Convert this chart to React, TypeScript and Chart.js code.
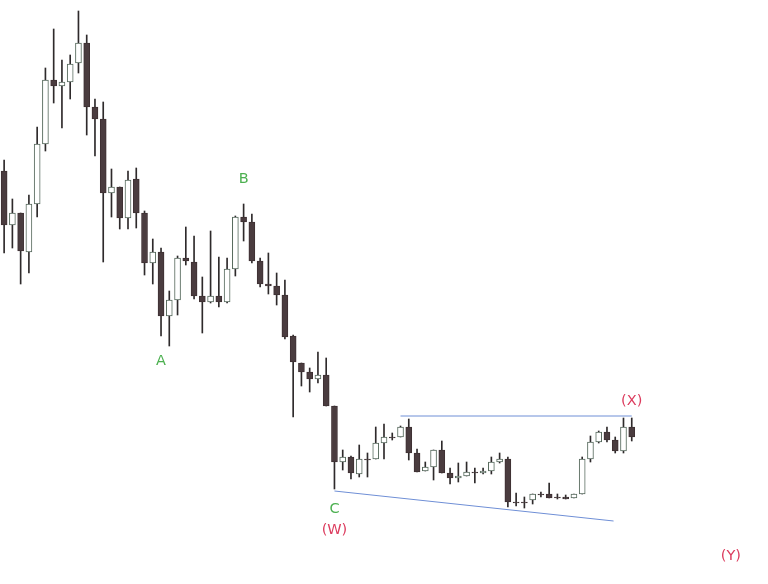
import { useEffect, useRef } from "react"
import { Chart, registerables } from "chart.js"

Chart.register(...registerables)

// price in points, one candle per session
const opens = [
  413, 359, 371, 332, 380, 440, 504, 498, 502, 521, 541, 477, 465, 391, 397, 366, 405, 371, 321, 332,
  268, 284, 326, 322, 288, 282, 288, 282, 315, 367, 362, 323, 300, 298, 289, 248, 221, 212, 205, 209,
  178, 122, 127, 110, 125, 125, 141, 147, 147, 157, 131, 113, 117, 134, 111, 106, 108, 112, 111, 113,
  122, 125, 82, 82, 84, 90, 90, 87, 87, 86, 90, 125, 142, 152, 144, 133, 157,
]
const highs = [
  424, 385, 371, 389, 457, 516, 555, 524, 529, 573, 549, 485, 482, 415, 397, 413, 416, 373, 345, 336,
  293, 328, 357, 348, 307, 353, 327, 326, 368, 380, 370, 326, 331, 311, 304, 249, 221, 216, 232, 226,
  178, 134, 128, 139, 131, 157, 160, 151, 158, 165, 135, 122, 134, 143, 116, 121, 122, 116, 116, 127,
  131, 127, 91, 87, 90, 92, 101, 90, 89, 90, 127, 148, 153, 157, 147, 166, 166,
]
const lows = [
  331, 336, 300, 311, 367, 433, 481, 456, 485, 511, 449, 428, 322, 367, 355, 355, 356, 309, 300, 248,
  238, 269, 319, 285, 251, 281, 277, 281, 308, 343, 321, 297, 290, 279, 245, 167, 198, 192, 201, 178,
  95, 114, 105, 107, 107, 125, 125, 144, 147, 124, 112, 113, 104, 111, 100, 102, 108, 101, 110, 110,
  121, 77, 78, 76, 80, 87, 86, 85, 85, 86, 90, 122, 141, 142, 131, 131, 143,
]
const closes = [
  359, 371, 333, 380, 440, 504, 498, 502, 520, 541, 477, 465, 391, 397, 366, 404, 371, 321, 332, 268,
  284, 326, 323, 288, 282, 288, 282, 315, 367, 362, 323, 300, 298, 289, 247, 222, 212, 205, 209, 178,
  122, 127, 111, 125, 124, 141, 147, 146, 157, 131, 112, 117, 134, 111, 106, 108, 112, 111, 113, 122,
  125, 82, 81, 81, 90, 89, 86, 86, 85, 90, 125, 142, 152, 144, 133, 157, 147,
]

// sessions on the time axis, including the empty space to the right
const sessions = Array.from({ length: 93 }, (_, i) => `D${i + 1}`)

// wave labels: text, session index, price
const waveTexts = ["A", "B", "C", "(W)", "(X)", "(Y)"]
const waveIndex = [19, 29, 40, 40, 76, 88]
const wavePrice = [223, 405, 75, 54, 183, 28]
const waveColors = ["#4cb050", "#4cb050", "#4cb050", "#dc3c5e", "#dc3c5e", "#dc3c5e"]

// channel lines: [start index, start price, end index, end price]
const upperLine = [48, 168, 76, 168]
const lowerLine = [40, 93, 73.8, 63]

const annotations = {
  id: "waveAnnotations",
  afterDatasetsDraw(chart: Chart) {
    const { ctx } = chart
    const x = chart.scales.x
    const y = chart.scales.y
    ctx.save()
    ctx.strokeStyle = "#6f8fd6"
    ctx.lineWidth = 1
    for (const ln of [upperLine, lowerLine]) {
      ctx.beginPath()
      ctx.moveTo(x.getPixelForValue(ln[0]), y.getPixelForValue(ln[1]))
      ctx.lineTo(x.getPixelForValue(ln[2]), y.getPixelForValue(ln[3]))
      ctx.stroke()
    }
    ctx.font = "14.5px 'DejaVu Sans'"
    ctx.textAlign = "center"
    ctx.textBaseline = "middle"
    waveTexts.forEach((t, i) => {
      ctx.fillStyle = waveColors[i]
      ctx.fillText(t, x.getPixelForValue(waveIndex[i]), y.getPixelForValue(wavePrice[i]))
    })
    ctx.restore()
  },
}

export default function App() {
  const chartRef = useRef<HTMLCanvasElement>(null)
  const chartInstance = useRef<Chart | null>(null)

  useEffect(() => {
    if (!chartRef.current) return
    if (chartInstance.current) chartInstance.current.destroy()

    const up = opens.map((o, i) => closes[i] >= o)
    const bodies = opens.map((o, i) => [Math.min(o, closes[i]), Math.max(o, closes[i])])
    const wicks = lows.map((l, i) => [l, highs[i]])

    chartInstance.current = new Chart(chartRef.current, {
      type: "bar",
      data: {
        labels: sessions,
        datasets: [
          {
            data: bodies as any,
            backgroundColor: up.map((u) => (u ? "#ffffff" : "#4a3c3f")),
            borderColor: up.map((u) => (u ? "#56695c" : "#3e3033")),
            borderWidth: 1,
            borderSkipped: false,
            barThickness: 6,
            grouped: false,
            order: 0,
          },
          {
            data: wicks as any,
            backgroundColor: "#2e2a2b",
            borderWidth: 0,
            barThickness: 1,
            grouped: false,
            order: 1,
          },
        ],
      },
      options: {
        animation: false,
        responsive: true,
        maintainAspectRatio: false,
        layout: { padding: 0 },
        plugins: { legend: { display: false }, tooltip: { enabled: false } },
        scales: {
          x: { display: false, offset: true },
          y: { display: false, min: 0, max: 584 },
        },
      },
      plugins: [annotations],
    })

    return () => {
      if (chartInstance.current) {
        chartInstance.current.destroy()
        chartInstance.current = null
      }
    }
  }, [])

  return (
    <div style={{ position: "fixed", left: 0, top: 0, width: 768, height: 584, background: "#fff" }}>
      <canvas ref={chartRef} />
    </div>
  )
}
